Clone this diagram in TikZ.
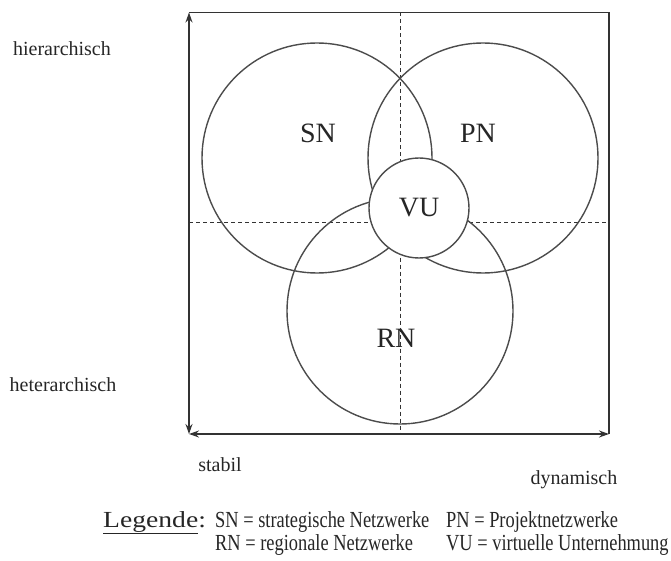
\documentclass[tikz,border=0pt]{standalone}
\usepackage{fontspec}
\setmainfont{Liberation Serif}
\usetikzlibrary{arrows.meta}

\tikzset{
  frame/.style={draw=black!80, line width=1.5pt},
  axis/.style={frame, {Stealth[length=10pt,width=7pt]}-{Stealth[length=10pt,width=7pt]}},
  cut/.style={draw=black!80, line width=1pt, dash pattern=on 4pt off 3pt},
  ring/.style={draw=black!70, line width=1.4pt, circle, inner sep=0pt},
  big/.style={font=\fontsize{28}{30}\selectfont, text=black!85},
  side/.style={font=\fontsize{20}{24}\selectfont, text=black!85, anchor=base},
  legend/.style={font=\fontsize{23}{26}\selectfont, text=black!85, anchor=base west,
    inner sep=0pt, xscale=0.8, transform shape}
}

\begin{document}
\begin{tikzpicture}[x=1pt,y=-1pt]
\useasboundingbox (0,0) rectangle (671,561);
%\draw[help lines,step=50] (0,0) grid (671,561);
% frame corners and axis midpoints
\coordinate (tl) at (189,12.5);
\coordinate (tr) at (609,12.5);
\coordinate (bl) at (189,434);
\coordinate (br) at (609,434);
\coordinate (tm) at (400,12.5);
\coordinate (bm) at (400,434);
\coordinate (lm) at (189,223);
\coordinate (rm) at (609,223);

\draw[cut] (tm) -- (bm);
\draw[cut] (lm) -- (rm);
\draw[frame] (tl) -- (tr) -- (br);
\draw[axis] (tl) -- (bl);
\draw[axis] (bl) -- (br);

% the networks
\node (sn) [ring, minimum size=230pt] at (317,158) {};
\node (pn) [ring, minimum size=230pt] at (483,158) {};
\node (rn) [ring, minimum size=226pt] at (400,311) {};
\node (vu) [ring, fill=white, minimum size=100pt, big] at (419,208) {VU};

\node (snl) [big] at (318,133) {SN};
\node (pnl) [big] at (478,133) {PN};
\node (rnl) [big] at (396,338) {RN};

% axis labels
\node (hi) [side] at (62,56) {hierarchisch};
\node (he) [side] at (63,391) {heterarchisch};
\node (st) [side] at (220,471) {stabil};
\node (dy) [side] at (574,484) {dynamisch};

% legend
\node (leg) [legend, xscale=1.5] at (103,527) {\underline{Legende}:};
\node (l1) [legend] at (215,527) {SN = strategische Netzwerke};
\node (l2) [legend] at (446,527) {PN = Projektnetzwerke};
\node (l3) [legend] at (215,550) {RN = regionale Netzwerke};
\node (l4) [legend] at (446,550) {VU = virtuelle Unternehmung};
\end{tikzpicture}
\end{document}
